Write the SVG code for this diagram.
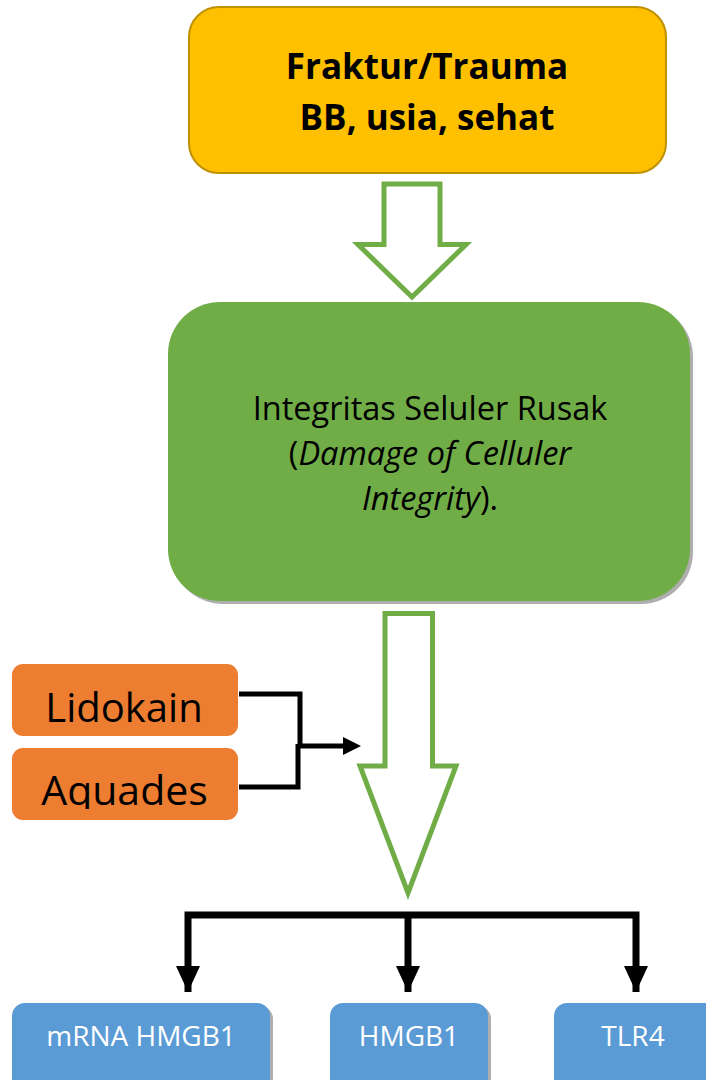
<svg xmlns="http://www.w3.org/2000/svg" width="706" height="1080" viewBox="0 0 706 1080">
<style>
.t{font-family:"Open Sans","Liberation Sans",sans-serif;text-anchor:middle}
.blk{stroke:#000;stroke-width:5;fill:none}
.ga{fill:#fff;stroke:#70AD47;stroke-width:5;stroke-linejoin:miter}
.sh{fill:#9a9a9a;opacity:0.8}
.blue{fill:#5B9BD5}
.org{fill:#ED7D31}
</style>
<defs>
<clipPath id="aqclip"><rect x="12" y="748" width="226" height="61"/></clipPath>
</defs>
<rect width="706" height="1080" fill="#fff"/>
<g id="connectors">
<path class="ga" d="M384,184 H440 V244.5 H466 L412,297 L358,244.5 H384 Z"/>
<path class="ga" d="M385,613.5 H432.5 V766 H456 L408,893 L360,766 H385 Z"/>
<path class="blk" d="M239,694 H300 V746"/>
<path class="blk" d="M239,787 H298 V744"/>
<path class="blk" d="M298,746 H345"/>
<polygon points="343,737 361,746 343,755" fill="#000"/>
<path stroke="#000" stroke-width="7" fill="none" d="M188,992 V915 H636 V992 M408,915 V992"/>
<polygon points="176,966 200,966 188,992" fill="#000"/>
<polygon points="396,966 420,966 408,992" fill="#000"/>
<polygon points="624,966 648,966 636,992" fill="#000"/>
</g>
<g id="node-trauma">
<rect x="189" y="7" width="477" height="166" rx="30" fill="#FFC000" stroke="#BF9000" stroke-width="2"/>
<text class="t" x="427" y="79" font-size="35" font-weight="bold">Fraktur/Trauma</text>
<text class="t" x="427" y="130" font-size="35" font-weight="bold">BB, usia, sehat</text>
</g>
<g id="node-integritas">
<rect x="171" y="305" width="522" height="299" rx="52" class="sh"/>
<rect x="168" y="302" width="522" height="299" rx="52" fill="#70AD47"/>
<text class="t" x="430" y="420" font-size="32.5">Integritas Seluler Rusak</text>
<text class="t" x="430" y="465" font-size="32.5">(<tspan font-style="italic">Damage of Celluler</tspan></text>
<text class="t" x="430" y="510" font-size="32.5"><tspan font-style="italic">Integrity</tspan>).</text>
</g>
<g id="node-lidokain">
<rect x="12" y="664" width="226" height="72" rx="11" class="org"/>
<text class="t" x="124" y="722" font-size="40">Lidokain</text>
</g>
<g id="node-aquades">
<rect x="12" y="748" width="226" height="72" rx="11" class="org"/>
<text class="t" x="124.5" y="805" font-size="41" clip-path="url(#aqclip)">Aquades</text>
</g>
<g id="node-mrna">
<rect x="15" y="1006" width="258" height="90" rx="13" class="sh"/>
<rect x="12" y="1003" width="258" height="90" rx="13" class="blue"/>
<text class="t" x="141" y="1046" font-size="28" fill="#fff">mRNA HMGB1</text>
</g>
<g id="node-hmgb1">
<rect x="333" y="1006" width="158" height="90" rx="13" class="sh"/>
<rect x="330" y="1003" width="158" height="90" rx="13" class="blue"/>
<text class="t" x="409" y="1046" font-size="28" fill="#fff">HMGB1</text>
</g>
<g id="node-tlr4">
<rect x="557" y="1006" width="170" height="90" rx="13" class="sh"/>
<rect x="554" y="1003" width="170" height="90" rx="13" class="blue"/>
<text class="t" x="633" y="1046" font-size="28" fill="#fff">TLR4</text>
</g>
</svg>
